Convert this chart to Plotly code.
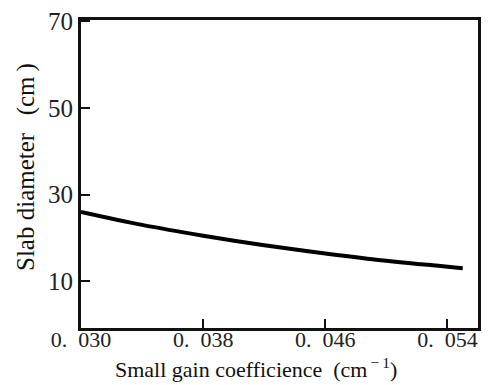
import plotly.graph_objects as go

# Data
gain_coeff = [0.030, 0.034, 0.038, 0.042, 0.046, 0.050, 0.055]
slab_diameter = [26.0, 23.0, 20.5, 18.3, 16.4, 14.7, 13.0]

x_tick_vals = [0.030, 0.038, 0.046, 0.054]
x_tick_text = ["0.\u2002030", "0.\u2002038", "0.\u2002046", "0.\u2002054"]
y_tick_vals = [10, 30, 50, 70]
y_tick_text = ["10", "30", "50", "70"]

x_title = "Small gain coefficience\u2002(cm<sup>\u2009\u2212\u20091</sup>)"
y_title = "Slab diameter\u2002\u2009(cm\u2009)"

FONT = "Liberation Serif, Times New Roman, serif"

# The page body has an 8 px default margin; plot area should sit at
# page x 81..478, y 20..328.
PX0, PX1, PY0, PY1 = 81, 478, 20, 328

fig = go.Figure()
fig.add_trace(go.Scatter(
    x=gain_coeff, y=slab_diameter, mode="lines",
    line=dict(color="black", width=4, shape="spline", smoothing=1.0),
    showlegend=False, hoverinfo="skip",
))

fig.update_layout(
    width=483, height=377,
    margin=dict(l=73, r=13, t=12, b=57, autoexpand=False),
    paper_bgcolor="white", plot_bgcolor="white",
    font=dict(family=FONT, color="#111"),
    xaxis=dict(
        range=[0.030, 0.056], showgrid=False, zeroline=False, automargin=False,
        showline=True, linecolor="#111", linewidth=3, mirror=True,
        ticks="inside", ticklen=9, tickwidth=2, tickcolor="#111",
        tickvals=x_tick_vals, ticktext=x_tick_text, ticklabelstandoff=-10,
        tickfont=dict(size=22, family=FONT, color="#222"),
    ),
    yaxis=dict(
        range=[-0.8, 70.3], showgrid=False, zeroline=False, automargin=False,
        showline=True, linecolor="#111", linewidth=3, mirror=True,
        ticks="inside", ticklen=9, tickwidth=2, tickcolor="#111",
        tickvals=y_tick_vals, ticktext=y_tick_text,
        tickfont=dict(size=25, family=FONT, color="#222"),
    ),
    annotations=[
        dict(text=x_title, xref="paper", yref="paper",
             x=(256 - PX0) / (PX1 - PX0), y=-(368 - PY1) / (PY1 - PY0),
             xanchor="center", yanchor="middle", showarrow=False,
             font=dict(size=22, family=FONT, color="#111")),
        dict(text=y_title, xref="paper", yref="paper",
             x=-(PX0 - 26) / (PX1 - PX0), y=(PY1 - 167) / (PY1 - PY0),
             xanchor="center", yanchor="middle", showarrow=False, textangle=-90,
             font=dict(size=25, family=FONT, color="#111")),
    ],
)

fig.write_html("out.html")
